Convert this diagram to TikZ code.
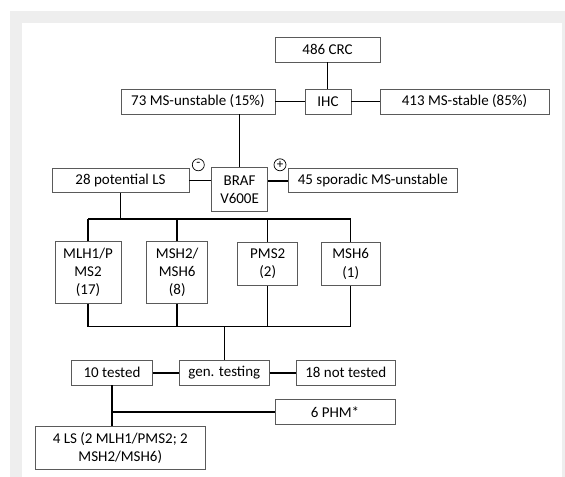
\documentclass[tikz,border=0pt]{standalone}
\usepackage{fontspec}
\setmainfont{Carlito}
\definecolor{bggray}{HTML}{EEEEEE}
\definecolor{boxgray}{HTML}{5A5A5A}
\tikzset{
  box/.style={draw=boxgray, line width=0.8bp, fill=white, inner sep=0pt,
    font=\fontsize{15bp}{18.3bp}\selectfont, align=center},
  conn/.style={line width=1.5bp, draw=black},
  sign/.style={circle, draw=black, line width=0.7bp, fill=white, minimum size=12bp,
    inner sep=0pt, font=\fontsize{13bp}{13bp}\selectfont}
}
\begin{document}
\begin{tikzpicture}[x=1bp,y=-1bp]
\useasboundingbox (0,0) rectangle (565,477);
\fill[white] (0,0) rectangle (565,477);
\fill[bggray] (10,11) rectangle (565,477);
\fill[white] (22,23) rectangle (562,477);

\node[box, minimum width=105bp, minimum height=25bp] (crc) at (327.5,49.5) {486 CRC};
\node[box, minimum width=46bp, minimum height=25bp] (ihc) at (328,101.5) {IHC};
\node[box, minimum width=169bp, minimum height=25bp] (stable) at (464.5,101.5) {413 MS-stable (85\%)};
\node[box, minimum width=154bp, minimum height=25bp] (unstable) at (198,101.5) {73 MS-unstable (15\%)};

\node[box, minimum width=137bp, minimum height=24bp] (pot) at (120.5,180.5) {28 potential LS};
\node[box, minimum width=56bp, minimum height=44.4bp] (braf) at (239.6,189.5) {BRAF\\V600E};
\node[box, minimum width=169bp, minimum height=24bp] (spor) at (372.8,180.8) {45 sporadic MS-unstable};
\node[sign] (minus) at (198.3,164.8) {-};
\node[sign] (plus) at (280,164.8) {+};

\node[box, minimum width=66bp, minimum height=61.6bp] (mlh) at (88,272.5) {MLH1/P\\MS2\\(17)};
\node[box, minimum width=61bp, minimum height=61.6bp] (msh2) at (177.2,272.5) {MSH2/\\MSH6\\(8)};
\node[box, minimum width=60bp, minimum height=43.4bp] (pms2) at (267.7,264) {PMS2\\(2)};
\node[box, minimum width=59.3bp, minimum height=43.4bp] (msh6) at (350.7,264) {MSH6\\(1)};

\node[box, minimum width=90bp, minimum height=24.3bp] (gen) at (224.3,372.8) {gen. testing};
\node[box, minimum width=80.6bp, minimum height=24.3bp] (ten) at (112,372.8) {10 tested};
\node[box, minimum width=98.3bp, minimum height=24.3bp] (nott) at (345.8,372.8) {18 not tested};
\node[box, minimum width=120bp, minimum height=25bp] (phm) at (335,411.8) {6 PHM*};
\node[box, minimum width=170.7bp, minimum height=42.6bp] (ls) at (120.3,448) {4 LS (2 MLH1/PMS2; 2\\MSH2/MSH6)};

\coordinate (b1) at (120.5,219);
\coordinate (b2) at (224.3,326.5);
\coordinate (b3) at (112.3,411.8);

\begin{scope}[conn]
\draw (crc.south) -- (crc.south |- ihc.north);
\draw (unstable.east) -- (ihc.west);
\draw (ihc.east) -- (stable.west);
\draw (braf.north) -- (braf.north |- unstable.south);
\draw (pot.east) -- (pot.east -| braf.west);
\draw (spor.west) -- (spor.west -| braf.east);
\draw (pot.south) -- (pot.south |- b1);
\draw (mlh.north |- b1) -- (msh6.north |- b1);
\foreach \n in {mlh,msh2,pms2,msh6} {
  \draw (\n.north) -- (\n.north |- b1);
  \draw (\n.south) -- (\n.south |- b2);
}
\draw (mlh.south |- b2) -- (msh6.south |- b2);
\draw (b2) -- (gen.north);
\draw (ten.east) -- (gen.west);
\draw (gen.east) -- (nott.west);
\draw (ten.south) -- (ten.south |- ls.north);
\draw (ten.south |- b3) -- (phm.west);
\end{scope}
\end{tikzpicture}
\end{document}
